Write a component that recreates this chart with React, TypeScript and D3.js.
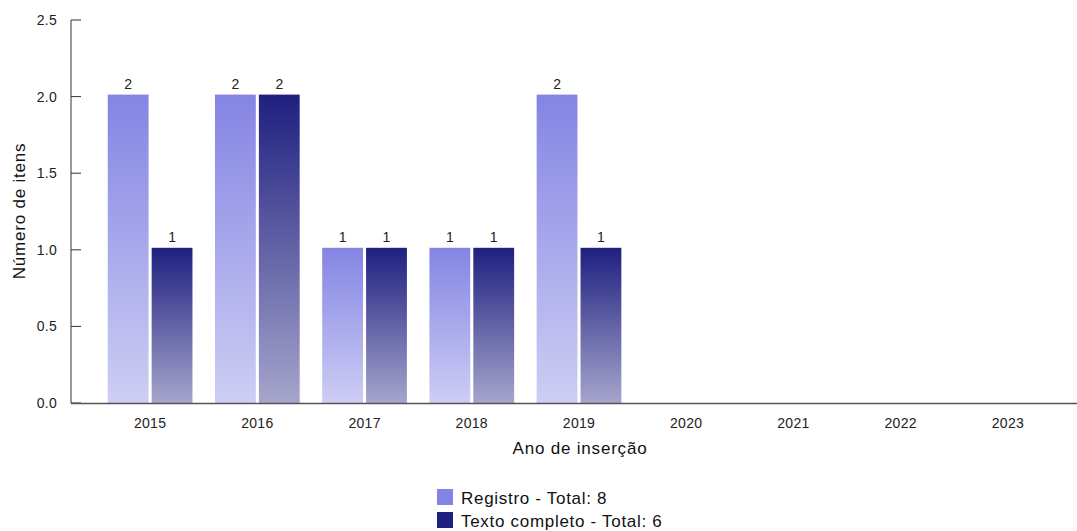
import React from "react";
import * as d3 from "d3";

const years = ["2015", "2016", "2017", "2018", "2019", "2020", "2021", "2022", "2023"];
const registro = [2, 2, 1, 1, 2, 0, 0, 0, 0];
const textoCompleto = [1, 2, 1, 1, 1, 0, 0, 0, 0];
const seriesNames = ["Registro", "Texto completo"];
const seriesColors = ["#8484e4", "#1f1f80"];
const yTicks = [0, 0.5, 1, 1.5, 2, 2.5];

const W = 1077;
const H = 531;
const font = "'Liberation Sans', Arial, Helvetica, sans-serif";

export default function App() {
  const x = d3.scaleBand<string>().domain(years).range([96.5, 1061.5]).paddingInner(0).paddingOuter(0);
  const y = d3.scaleLinear().domain([0, 2.5]).range([403, 20]);
  const groupW = x.bandwidth() * 0.79;
  const inner = d3.scaleBand<number>().domain([0, 1]).range([0, groupW]).paddingInner(0.07);
  const data = [registro, textoCompleto];
  const totals = data.map((s) => d3.sum(s));

  return (
    <svg width={W} height={H} style={{ position: "absolute", left: 0, top: 0, fontFamily: font }}>
      <defs>
        {seriesColors.map((c, i) => (
          <linearGradient key={i} id={`g${i}`} x1="0" y1="0" x2="0" y2="1">
            <stop offset="0%" stopColor={c} stopOpacity={1} />
            <stop offset="100%" stopColor={c} stopOpacity={0.4} />
          </linearGradient>
        ))}
      </defs>
      {/* bars */}
      {years.map((yr, i) => {
        const gx = (x(yr) as number) + (x.bandwidth() - groupW) / 2;
        return (
          <g key={yr}>
            {data.map((s, si) =>
              s[i] > 0 ? (
                <g key={si}>
                  <rect
                    x={gx + (inner(si) as number)}
                    y={y(s[i]) - 2}
                    width={inner.bandwidth()}
                    height={y(0) - y(s[i]) + 2}
                    fill={`url(#g${si})`}
                  />
                  <text
                    x={gx + (inner(si) as number) + inner.bandwidth() / 2}
                    y={y(s[i]) - 8}
                    textAnchor="middle"
                    fontSize={14}
                    fill="#222"
                  >
                    {s[i]}
                  </text>
                </g>
              ) : null
            )}
          </g>
        );
      })}
      {/* y axis */}
      <line x1={71} x2={71} y1={y(2.5)} y2={y(0)} stroke="#333" strokeWidth={1} />
      {yTicks.map((t) => (
        <g key={t}>
          <line x1={71} x2={81} y1={y(t)} y2={y(t)} stroke="#333" />
          <text x={57} y={y(t)} dy="0.35em" textAnchor="end" fontSize={14} letterSpacing={0.3} fill="#222">
            {t.toFixed(1)}
          </text>
        </g>
      ))}
      {/* x axis */}
      <line x1={71} x2={1077} y1={403.5} y2={403.5} stroke="#555" strokeWidth={1.5} />
      {years.map((yr) => (
        <text key={yr} x={(x(yr) as number) + x.bandwidth() / 2} y={428} textAnchor="middle" fontSize={14} letterSpacing={0.3} fill="#222">
          {yr}
        </text>
      ))}
      <text x={580} y={454} textAnchor="middle" fontSize={17} letterSpacing={0.8} fill="#111">
        Ano de inserção
      </text>
      <text transform={`translate(25,${211}) rotate(-90)`} textAnchor="middle" fontSize={17} letterSpacing={0.8} fill="#111">
        Número de itens
      </text>
      {/* legend */}
      {seriesNames.map((n, i) => (
        <g key={n}>
          <rect x={437} y={489 + i * 23} width={16} height={16} fill={seriesColors[i]} />
          <text x={461} y={504 + i * 23} fontSize={17} letterSpacing={0.7} fill="#111">
            {`${n} - Total: ${totals[i]}`}
          </text>
        </g>
      ))}
    </svg>
  );
}
